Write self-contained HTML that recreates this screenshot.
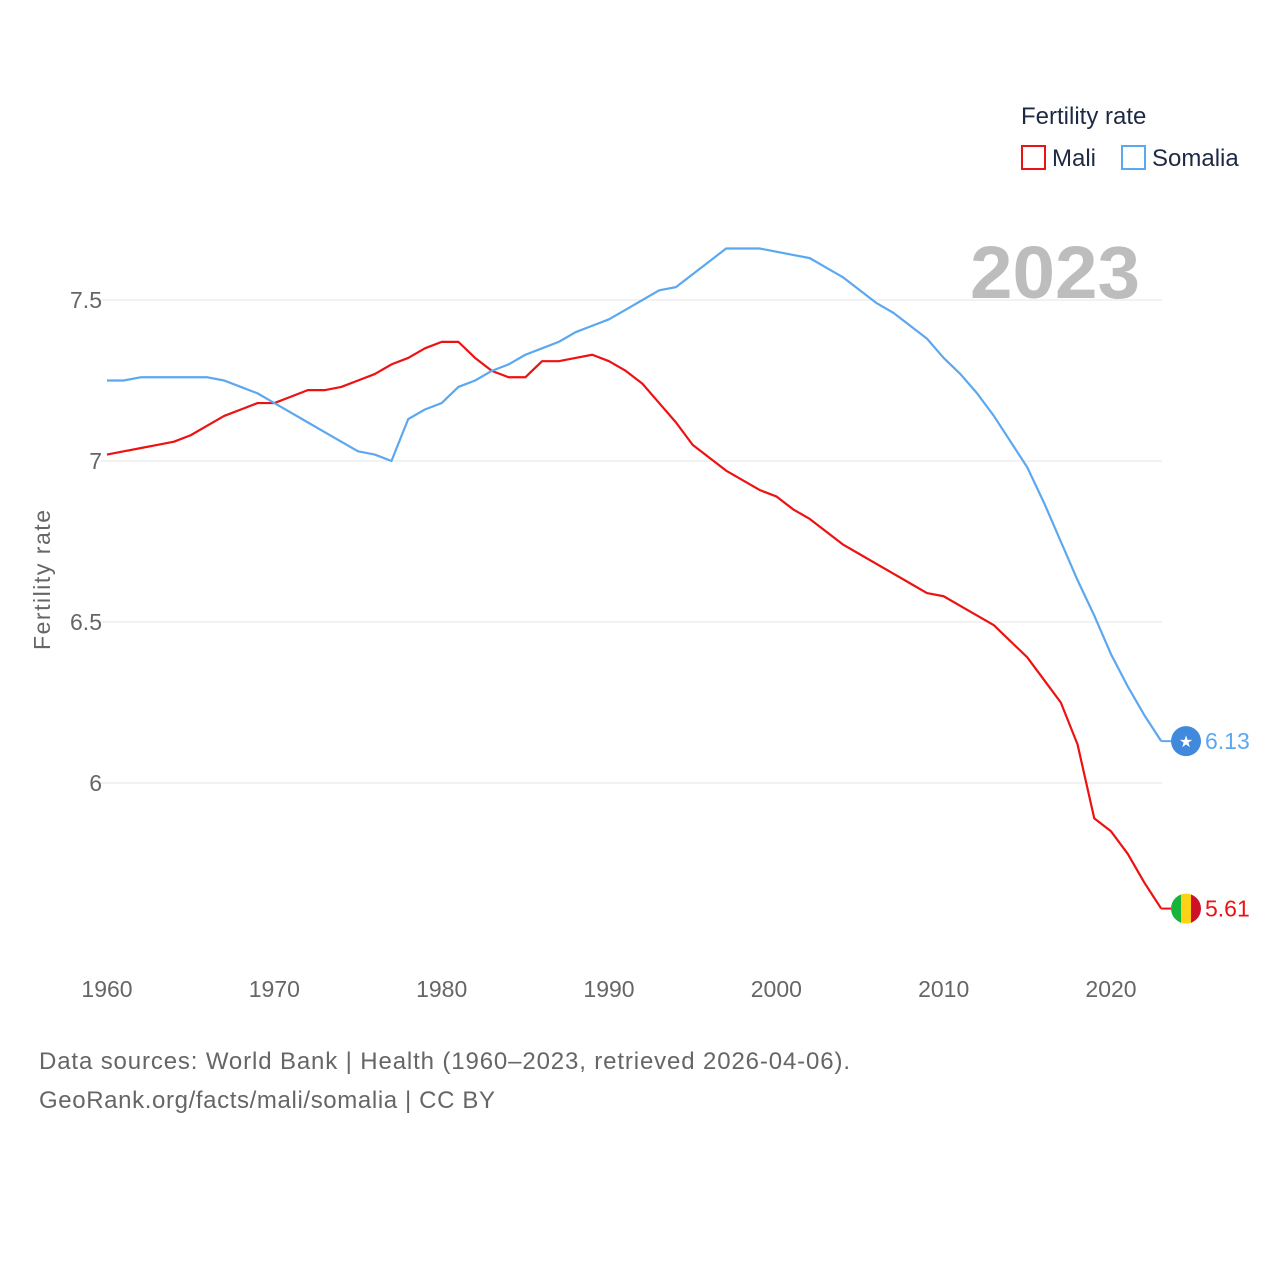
<!DOCTYPE html>
<html><head><meta charset="utf-8"><style>
html,body{margin:0;padding:0;background:#fff;width:1280px;height:1280px;overflow:hidden;font-family:"Liberation Sans",sans-serif}
</style></head><body>
<svg width="1280" height="1280" font-family="Liberation Sans, sans-serif">
<g id="grid"></g>
<text x="1140" y="298" text-anchor="end" font-size="74" font-weight="bold" fill="#bdbdbd" textLength="170" lengthAdjust="spacingAndGlyphs">2023</text>
<text x="50" y="580" transform="rotate(-90 50 580)" text-anchor="middle" font-size="23" fill="#666" textLength="140">Fertility rate</text>
<g id="lines"></g>
<g>
<text x="1021" y="124" font-size="24" fill="#1e2a44">Fertility rate</text>
<g><rect x="1022" y="146" width="23" height="23" fill="none" stroke="#ee1111" stroke-width="2"/><text x="1052" y="166" font-size="24" fill="#1e2a44">Mali</text></g>
<g><rect x="1122" y="146" width="23" height="23" fill="none" stroke="#5ba8f0" stroke-width="2"/><text x="1152" y="166" font-size="24" fill="#1e2a44">Somalia</text></g>
</g>
<text x="39" y="1069" font-size="24" fill="#666" textLength="811">Data sources: World Bank | Health (1960–2023, retrieved 2026-04-06).</text>
<text x="39" y="1108" font-size="24" fill="#666" textLength="456">GeoRank.org/facts/mali/somalia | CC BY</text>
</svg>
<script>
const years=[];for(let y=1960;y<=2023;y++)years.push(y);
const mali=[7.02,7.03,7.04,7.05,7.06,7.08,7.11,7.14,7.16,7.18,7.18,7.20,7.22,7.22,7.23,7.25,7.27,7.30,7.32,7.35,7.37,7.37,7.32,7.28,7.26,7.26,7.31,7.31,7.32,7.33,7.31,7.28,7.24,7.18,7.12,7.05,7.01,6.97,6.94,6.91,6.89,6.85,6.82,6.78,6.74,6.71,6.68,6.65,6.62,6.59,6.58,6.55,6.52,6.49,6.44,6.39,6.32,6.25,6.12,5.89,5.85,5.78,5.69,5.61];
const somalia=[7.25,7.25,7.26,7.26,7.26,7.26,7.26,7.25,7.23,7.21,7.18,7.15,7.12,7.09,7.06,7.03,7.02,7.00,7.13,7.16,7.18,7.23,7.25,7.28,7.30,7.33,7.35,7.37,7.40,7.42,7.44,7.47,7.50,7.53,7.54,7.58,7.62,7.66,7.66,7.66,7.65,7.64,7.63,7.60,7.57,7.53,7.49,7.46,7.42,7.38,7.32,7.27,7.21,7.14,7.06,6.98,6.87,6.75,6.63,6.52,6.40,6.30,6.21,6.13];
const yTicks=[6,6.5,7,7.5];
const xTicks=[1960,1970,1980,1990,2000,2010,2020];
const NS="http://www.w3.org/2000/svg";
const xs=y=>107+(y-1960)*1004/60;
const ys=v=>783-(v-6)*322;
const grid=document.getElementById('grid'),lines=document.getElementById('lines');
function mk(tag,attrs,parent){const e=document.createElementNS(NS,tag);for(const k in attrs)e.setAttribute(k,attrs[k]);parent.appendChild(e);return e;}
yTicks.forEach(v=>{
const l=mk('line',{x1:100,x2:1162,y1:ys(v),y2:ys(v),stroke:'#e6e6e6','stroke-width':1},grid);


const t=mk('text',{x:102,y:ys(v)+8,'text-anchor':'end','font-size':23,fill:'#666'},grid);t.textContent=String(v);


});
xTicks.forEach(v=>{
const t=mk('text',{x:xs(v),y:997,'text-anchor':'middle','font-size':23,fill:'#666'},grid);t.textContent=String(v);


});
function series(vals,color,name){
const p=mk('polyline',{points:vals.map((v,i)=>xs(years[i])+','+ys(v)).join(' '),fill:'none',stroke:color,'stroke-width':2.2,'stroke-linejoin':'round'},lines);


const last=vals[vals.length-1];
const t=mk('text',{x:1205,y:ys(last)+8,'font-size':23,fill:color},lines);t.textContent=last.toFixed(2);


return ys(last);
}
const ym=series(mali,'#ee1111','mali');
const ysom=series(somalia,'#5ba8f0','somalia');
const gm=mk('g',{},lines);


const cp=mk('clipPath',{id:'cm'},gm);
mk('circle',{cx:1186,cy:ym,r:15},cp);
mk('polyline',{points:xs(2023)+','+ym+' 1171,'+ym,stroke:'#ee1111','stroke-width':2},gm);
mk('rect',{x:1171,y:ym-15,width:10,height:30,fill:'#14b53a','clip-path':'url(#cm)'},gm);
mk('rect',{x:1181,y:ym-15,width:10,height:30,fill:'#fcd116','clip-path':'url(#cm)'},gm);
mk('rect',{x:1191,y:ym-15,width:10,height:30,fill:'#ce1126','clip-path':'url(#cm)'},gm);
const gs=mk('g',{},lines);


mk('polyline',{points:xs(2023)+','+ysom+' 1171,'+ysom,stroke:'#5ba8f0','stroke-width':2},gs);
mk('circle',{cx:1186,cy:ysom,r:15,fill:'#4189dd'},gs);
const st=mk('text',{x:1186,y:ysom+6,'text-anchor':'middle','font-size':16,fill:'#fff'},gs);st.textContent='★';
</script>
</body></html>
